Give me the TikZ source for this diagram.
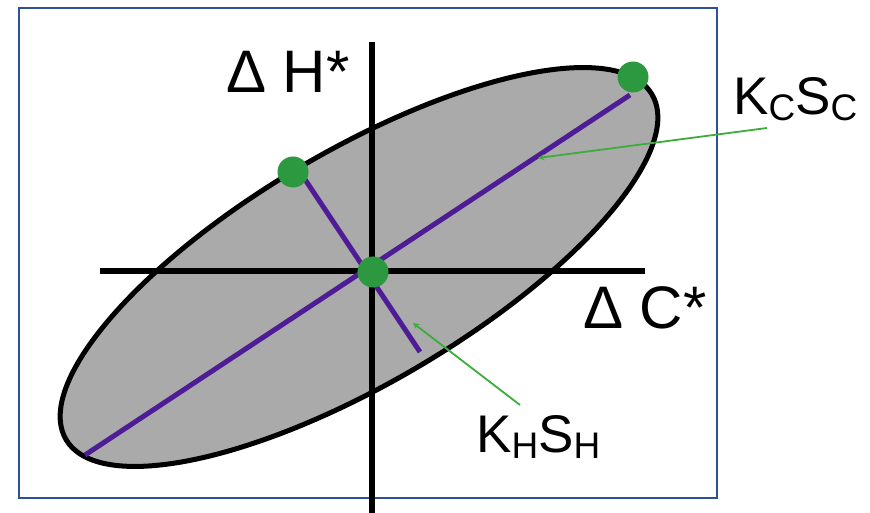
\documentclass[tikz,border=0pt]{standalone}
\usepackage{fontspec}
\setmainfont{Liberation Sans}
\usepackage{tikz}
\usetikzlibrary{arrows,positioning}

\definecolor{framecol}{RGB}{45,80,150}
\definecolor{ellfill}{RGB}{170,170,170}
\definecolor{pcpurple}{RGB}{78,28,148}
\definecolor{dotgreen}{RGB}{44,152,64}
\definecolor{linegreen}{RGB}{60,172,60}

\newcommand{\lowsub}[1]{\raisebox{-6pt}{\fontsize{37}{37}\selectfont #1}}

\begin{document}
\begin{tikzpicture}[
    x=1pt, y=1pt,
    axis/.style={line width=5.5pt, black},
    pcline/.style={line width=5pt, draw=pcpurple},
    pcdot/.style={circle, fill=dotgreen, minimum size=31pt, inner sep=0pt},
    axlabel/.style={anchor=base west, inner sep=0pt, font=\fontsize{60}{60}\selectfont},
    pclabel/.style={anchor=base west, inner sep=0pt, font=\fontsize{53}{53}\selectfont},
    callout/.style={->, >=stealth, line width=1.8pt, draw=linegreen}
]
\useasboundingbox (0,0) rectangle (870,513);

% frame and scatter ellipse
\draw[framecol, line width=2.5pt] (19,15) rectangle (717,505);
\draw[line width=5pt, fill=ellfill] (359,246) ellipse [x radius=340, y radius=116, rotate=30.5];

% axes
\draw[axis] (100,242) -- (645,242);
\draw[axis] (372,471) -- (372,0);

% principal components
\coordinate (majlow) at (85,58);
\coordinate (majhigh) at (630,418);
\coordinate (minhigh) at (300,341);
\coordinate (minlow) at (420,161);
\draw[pcline] (majlow) -- (majhigh);
\draw[pcline] (minhigh) -- (minlow);

\node[pcdot] (origin) at (373,241) {};
\node[pcdot] (majend) at (633,436) {};
\node[pcdot] (minend) at (293,341) {};

% labels
\node[axlabel] (dh) at (226,420) {Δ H*};
\node[axlabel] (dc) at (583,184) {Δ C*};
\node[pclabel] (kcsc) at (733,398) {K\lowsub{C}S\lowsub{C}};
\node[pclabel] (khsh) at (476,60) {K\lowsub{H}S\lowsub{H}};

\coordinate (kctail) at (767,385);
\coordinate (kctip) at (538,355);
\coordinate (khtail) at (520,108);
\coordinate (khtip) at (413,190);
\draw[callout] (kctail) -- (kctip);
\draw[callout] (khtail) -- (khtip);
\end{tikzpicture}
\end{document}
